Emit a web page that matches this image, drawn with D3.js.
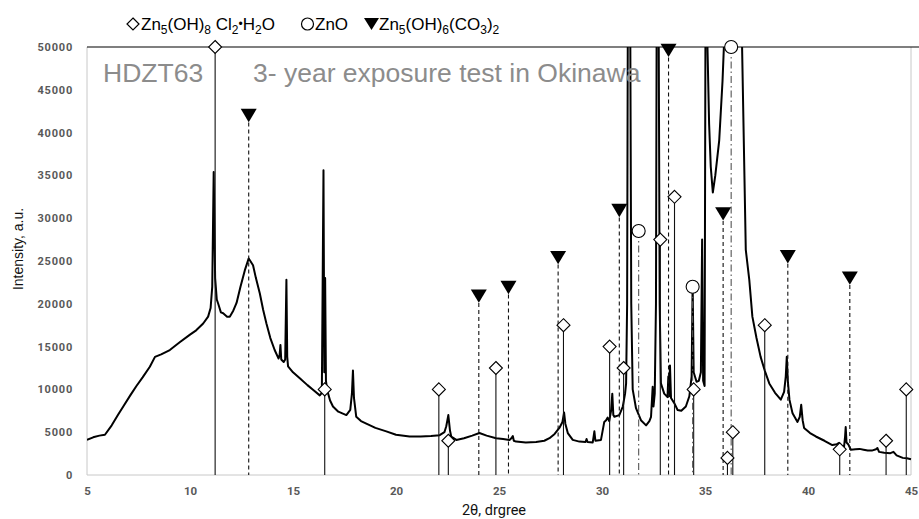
<!DOCTYPE html>
<html>
<head>
<meta charset="utf-8">
<script src="https://cdnjs.cloudflare.com/ajax/libs/d3/7.8.5/d3.min.js"></script>
<style>
  body { margin: 0; background: #fff; }
  svg { display: block; }
  .tick-y, .tick-x { font-family: Roboto, sans-serif; font-weight: 700; fill: #595959; }
</style>
</head>
<body>
<div id="chart"></div>
<script>
// xrd pattern, [2theta, intensity]
var pattern = [
  [5.0, 4100], [5.3, 4400], [5.6, 4600], [5.87, 4700], [6.2, 5800], [6.5, 7000], [6.76, 8000],
  [7.1, 9300], [7.4, 10400], [7.7, 11400], [8.05, 12650], [8.3, 13800], [8.6, 14100], [9.02, 14600],
  [9.5, 15500], [10.0, 16400], [10.3, 16900], [10.64, 17700], [10.88, 18500], [11.0, 19500],
  [11.08, 22000], [11.15, 35400], [11.22, 23000], [11.3, 20500], [11.37, 20000], [11.5, 19000],
  [11.61, 18900], [11.8, 18500], [11.93, 18500], [12.1, 19200], [12.26, 20100], [12.45, 22000],
  [12.66, 23900], [12.85, 25300], [13.06, 24500], [13.2, 23000], [13.39, 21200], [13.55, 19300],
  [13.71, 17700], [13.9, 16000], [14.11, 14600], [14.3, 13600], [14.35, 14000], [14.39, 15200],
  [14.43, 13500], [14.55, 13200], [14.62, 13500], [14.68, 22800], [14.72, 13800], [14.76, 12700],
  [15.0, 12000], [15.33, 11300], [15.7, 10500], [16.0, 9900], [16.3, 9300], [16.4, 9600],
  [16.48, 35600], [16.52, 12000], [16.56, 23000], [16.6, 11000], [16.66, 9900], [16.8, 8700],
  [16.94, 8000], [17.2, 7400], [17.59, 7000], [17.78, 7600], [17.86, 9500], [17.91, 12200],
  [17.96, 9000], [18.07, 6800], [18.3, 6300], [18.56, 6000], [19.0, 5500], [19.53, 5100],
  [20.0, 4700], [20.66, 4500], [21.2, 4500], [21.7, 4550], [22.12, 4650], [22.35, 5000],
  [22.44, 5700], [22.54, 7000], [22.62, 5200], [22.68, 4500], [22.93, 4100], [23.3, 4300],
  [23.7, 4600], [24.05, 4900], [24.4, 4600], [24.86, 4300], [25.2, 4200], [25.51, 4100],
  [25.6, 4300], [25.67, 4550], [25.72, 4000], [25.83, 3900], [26.3, 3800], [26.8, 3850],
  [27.2, 4000], [27.45, 4300], [27.7, 4800], [27.93, 5500], [28.08, 6200], [28.16, 7300],
  [28.22, 6000], [28.34, 4900], [28.58, 4100], [28.9, 3900], [29.2, 3850], [29.25, 4200],
  [29.3, 3850], [29.55, 3800], [29.6, 4600], [29.63, 5100], [29.68, 4000], [29.95, 4100],
  [30.11, 6200], [30.2, 6400], [30.27, 6700], [30.35, 6300], [30.44, 7500], [30.5, 9500],
  [30.55, 7000], [30.6, 6800], [30.84, 7000], [31.01, 8000], [31.12, 9500], [31.17, 10700],
  [31.22, 20000], [31.26, 60000], [31.36, 60000], [31.42, 20000], [31.49, 10000], [31.65, 7800],
  [31.89, 6400], [32.14, 5800], [32.3, 6300], [32.38, 6800], [32.43, 9000], [32.46, 10300],
  [32.5, 8000], [32.56, 9500], [32.62, 20000], [32.66, 60000], [32.74, 60000], [32.8, 20000],
  [32.86, 10700], [33.02, 9500], [33.18, 9100], [33.22, 11500], [33.26, 9200], [33.3, 12800],
  [33.35, 9000], [33.51, 8400], [33.67, 7600], [33.85, 7500], [34.07, 8000], [34.24, 9200],
  [34.35, 11500], [34.4, 22400], [34.45, 12000], [34.59, 10900], [34.7, 11000], [34.8, 12000],
  [34.86, 27500], [34.91, 11000], [34.98, 10400], [35.03, 60000], [35.08, 60000], [35.12, 50000],
  [35.2, 41000], [35.28, 36000], [35.38, 33000], [35.5, 35000], [35.69, 39100], [35.85, 46000],
  [35.95, 52000], [36.1, 70000], [36.3, 100000], [36.6, 70000], [36.8, 50000], [36.98, 26300],
  [37.15, 22800], [37.3, 18500], [37.5, 16000], [37.7, 13800], [37.9, 12200], [38.12, 10700],
  [38.4, 9600], [38.68, 8800], [38.84, 9700], [38.92, 11500], [38.97, 13800], [39.02, 11000],
  [39.1, 8800], [39.25, 7200], [39.49, 6200], [39.6, 6800], [39.67, 8200], [39.74, 6400],
  [39.81, 5500], [40.1, 4900], [40.38, 4500], [40.8, 4000], [41.18, 3500], [41.4, 3600],
  [41.51, 3750], [41.65, 3400], [41.75, 3300], [41.8, 4500], [41.83, 5600], [41.87, 3800],
  [41.95, 3600], [42.08, 2950], [42.3, 3000], [42.5, 3050], [42.7, 2950], [42.9, 2850],
  [43.1, 2850], [43.3, 3000], [43.37, 3150], [43.45, 2700], [43.7, 2600], [44.0, 2550],
  [44.15, 2700], [44.3, 2300], [44.6, 2000], [44.8, 1950], [45.0, 1850]
];

// reference lines, [2theta, marker height]
var chlorideRefs = [
  [11.22, 50000], [16.54, 10000], [22.08, 10000], [22.54, 4000], [24.85, 12500], [28.13, 17500],
  [30.37, 15000], [31.05, 12500], [32.83, 27500], [33.52, 32500], [34.45, 10000], [36.09, 2000],
  [36.35, 5000], [37.9, 17500], [41.54, 3000], [43.79, 4000], [44.77, 10000]
];
var zincOxideRefs = [[31.78, 28500], [34.4, 22000], [36.27, 50000]];
var carbonateRefs = [
  [12.85, 42000], [24.02, 20900], [25.46, 21900], [27.87, 25400], [30.84, 30900],
  [33.23, 49600], [35.88, 30500], [39.02, 25500], [42.03, 23000]
];

var xTicks = [5, 10, 15, 20, 25, 30, 35, 40, 45];
var yTicks = [0, 5000, 10000, 15000, 20000, 25000, 30000, 35000, 40000, 45000, 50000];

var svgWidth = 919;
var svgHeight = 519;
var margin = { top: 47, right: 7, bottom: 44, left: 87 };
var width = svgWidth - margin.left - margin.right;
var height = svgHeight - margin.top - margin.bottom;

var svg = d3.select("#chart").append("svg")
  .attr("width", svgWidth)
  .attr("height", svgHeight);

var chartGroup = svg.append("g")
  .attr("transform", `translate(${margin.left}, ${margin.top})`);

var x = d3.scaleLinear().domain([5, 45]).range([0, width - 1]);
var y = d3.scaleLinear().domain([0, 50000]).range([height, 0]);

svg.append("defs").append("clipPath").attr("id", "plotClip")
  .append("rect").attr("x", 0).attr("y", 0).attr("width", width).attr("height", height);

// frame
chartGroup.append("line").attr("x1", 0).attr("x2", 0).attr("y1", 0).attr("y2", height)
  .attr("stroke", "#c8c8c8");
chartGroup.append("line").attr("x1", x(45)).attr("x2", x(45)).attr("y1", 0).attr("y2", height)
  .attr("stroke", "#c8c8c8");
chartGroup.append("line").attr("x1", 0).attr("x2", x(45)).attr("y1", height).attr("y2", height)
  .attr("stroke", "#c8c8c8");

// axes (labels only)
var yAxis = chartGroup.append("g")
  .call(d3.axisLeft(y).tickValues(yTicks).tickSize(0).tickPadding(14).tickFormat(d3.format("d")));
yAxis.select(".domain").remove();
yAxis.selectAll("text").attr("class", "tick-y").attr("font-size", "11px")
  .attr("letter-spacing", "0.8px");

var xAxis = chartGroup.append("g")
  .attr("transform", `translate(0, ${height})`)
  .call(d3.axisBottom(x).tickValues(xTicks).tickSize(0).tickPadding(12).tickFormat(d3.format("d")));
xAxis.select(".domain").remove();
xAxis.selectAll("text").attr("class", "tick-x").attr("font-size", "11.5px");

// pattern curve
var line = d3.line().x(d => x(d[0])).y(d => y(d[1]));
chartGroup.append("path")
  .datum(pattern)
  .attr("clip-path", "url(#plotClip)")
  .attr("fill", "none")
  .attr("stroke", "#000")
  .attr("stroke-width", 2)
  .attr("stroke-linejoin", "round")
  .attr("d", line);

// top line at 50000
chartGroup.append("line").attr("x1", 0).attr("x2", svgWidth - margin.left)
  .attr("y1", y(50000)).attr("y2", y(50000))
  .attr("stroke", "#000").attr("stroke-width", 1.2);

// reference drop lines
function dropLines(refs, dash, color) {
  chartGroup.selectAll(null)
    .data(refs)
    .enter()
    .append("line")
    .attr("x1", d => x(d[0]))
    .attr("x2", d => x(d[0]))
    .attr("y1", d => y(d[1]))
    .attr("y2", height)
    .attr("stroke", color)
    .attr("stroke-width", 1.1)
    .attr("stroke-dasharray", dash);
}
dropLines(chlorideRefs, null, "#111");
dropLines(carbonateRefs, "4,3", "#111");
dropLines(zincOxideRefs, "7,3,1.5,3", "#555");

var diamondPath = "M0,-6.5L6.5,0L0,6.5L-6.5,0Z";
var trianglePath = "M-8,-6.7L8,-6.7L0,6.7Z";

chartGroup.selectAll(".diamond")
  .data(chlorideRefs)
  .enter()
  .append("path")
  .attr("transform", d => `translate(${x(d[0])}, ${y(d[1])})`)
  .attr("d", diamondPath)
  .attr("fill", "#fff")
  .attr("stroke", "#000")
  .attr("stroke-width", 1.1);

chartGroup.selectAll(".zno")
  .data(zincOxideRefs)
  .enter()
  .append("circle")
  .attr("cx", d => x(d[0]))
  .attr("cy", d => y(d[1]))
  .attr("r", 6.5)
  .attr("fill", "#fff")
  .attr("stroke", "#000")
  .attr("stroke-width", 1.1);

chartGroup.selectAll(".tri")
  .data(carbonateRefs)
  .enter()
  .append("path")
  .attr("transform", d => `translate(${x(d[0])}, ${y(d[1])})`)
  .attr("d", trianglePath)
  .attr("fill", "#000");

// sample labels
chartGroup.append("text")
  .attr("x", 16).attr("y", 35)
  .attr("font-family", "Liberation Sans, Arial, sans-serif")
  .attr("font-size", "26.5px")
  .attr("fill", "#8c8c8c")
  .text("HDZT63");
chartGroup.append("text")
  .attr("x", 166).attr("y", 35)
  .attr("font-family", "Liberation Sans, Arial, sans-serif")
  .attr("font-size", "26.5px")
  .attr("fill", "#8c8c8c")
  .text("3- year exposure test in Okinawa");

// axis titles
svg.append("text")
  .attr("transform", "rotate(-90)")
  .attr("x", -249).attr("y", 23)
  .attr("text-anchor", "middle")
  .attr("font-family", "Liberation Sans, Arial, sans-serif")
  .attr("font-size", "14px")
  .attr("fill", "#111")
  .text("Intensity, a.u.");

svg.append("text")
  .attr("x", 494).attr("y", 515)
  .attr("text-anchor", "middle")
  .attr("font-family", "Roboto, sans-serif")
  .attr("font-size", "14.5px")
  .attr("fill", "#111")
  .text("2θ, drgree");

// legend
var legend = svg.append("g")
  .attr("font-family", "Liberation Sans, Arial, sans-serif")
  .attr("font-size", "17px")
  .attr("fill", "#000");

legend.append("path")
  .attr("transform", "translate(133, 24)")
  .attr("d", "M0,-6L6,0L0,6L-6,0Z")
  .attr("fill", "#fff").attr("stroke", "#000").attr("stroke-width", 1.2);

function addFormula(x0, parts) {
  var t = legend.append("text").attr("x", x0).attr("y", 30);
  parts.forEach(function(p) {
    var ts = t.append("tspan").text(p[0]);
    if (p[1] === "sub") {
      ts.attr("font-size", "12px").attr("dy", 3.5);
    } else if (p[1] === "dot") {
      ts.attr("font-size", "12px").attr("dy", -5.5);
    } else {
      ts.attr("dy", p[1] || 0);
    }
  });
}

addFormula(141, [["Zn"], ["5", "sub"], ["(OH)", -3.5], ["8", "sub"], [" Cl", -3.5], ["2", "sub"],
  ["\u2022", "dot"], ["H", 2], ["2", "sub"], ["O", -3.5]]);

legend.append("circle").attr("cx", 307.5).attr("cy", 24).attr("r", 6)
  .attr("fill", "#fff").attr("stroke", "#000").attr("stroke-width", 1.2);
legend.append("text").attr("x", 315).attr("y", 30).text("ZnO");

legend.append("path")
  .attr("transform", "translate(371.5, 24)")
  .attr("d", "M-7.5,-6L7.5,-6L0,6Z")
  .attr("fill", "#000");

addFormula(379, [["Zn"], ["5", "sub"], ["(OH)", -3.5], ["6", "sub"], ["(CO", -3.5], ["3", "sub"],
  [")", -3.5], ["2", "sub"]]);
</script>
</body>
</html>
